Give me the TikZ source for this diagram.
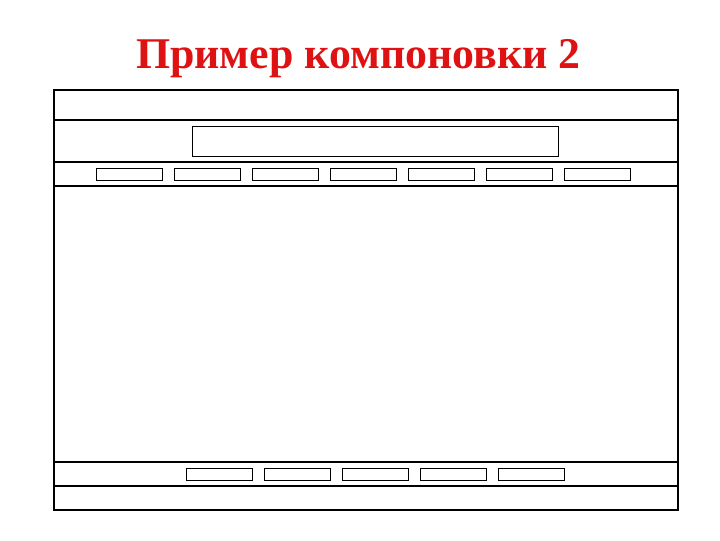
\documentclass[tikz,border=0pt]{standalone}
\usepackage{fontspec}
\setmainfont{Liberation Serif}
\usepackage{tikz}
\definecolor{titlered}{RGB}{222,18,18}

\begin{document}
\begin{tikzpicture}[x=0.025cm,y=-0.025cm]
\useasboundingbox (0,0) rectangle (720,540);
\node[anchor=base,text=titlered,font=\fontsize{31.2}{38}\selectfont\bfseries] (title) at (358.5,68) {Пример компоновки 2};
% frame and bands
\draw[line width=1.5pt] (54,90) rectangle (678,510);
\draw[line width=1.5pt] (54,120) -- (678,120);
\draw[line width=1.5pt] (54,162) -- (678,162);
\draw[line width=1.5pt] (54,186) -- (678,186);
\draw[line width=1.5pt] (54,462) -- (678,462);
\draw[line width=1.5pt] (54,486) -- (678,486);
% header box
\draw[line width=0.7pt] (192,126) rectangle (558,156);
% menu buttons
\draw[line width=0.7pt] (96,168) rectangle (162,180);
\draw[line width=0.7pt] (174,168) rectangle (240,180);
\draw[line width=0.7pt] (252,168) rectangle (318,180);
\draw[line width=0.7pt] (330,168) rectangle (396,180);
\draw[line width=0.7pt] (408,168) rectangle (474,180);
\draw[line width=0.7pt] (486,168) rectangle (552,180);
\draw[line width=0.7pt] (564,168) rectangle (630,180);
% bottom buttons
\draw[line width=0.7pt] (186,468) rectangle (252,480);
\draw[line width=0.7pt] (264,468) rectangle (330,480);
\draw[line width=0.7pt] (342,468) rectangle (408,480);
\draw[line width=0.7pt] (420,468) rectangle (486,480);
\draw[line width=0.7pt] (498,468) rectangle (564,480);
\end{tikzpicture}
\end{document}
